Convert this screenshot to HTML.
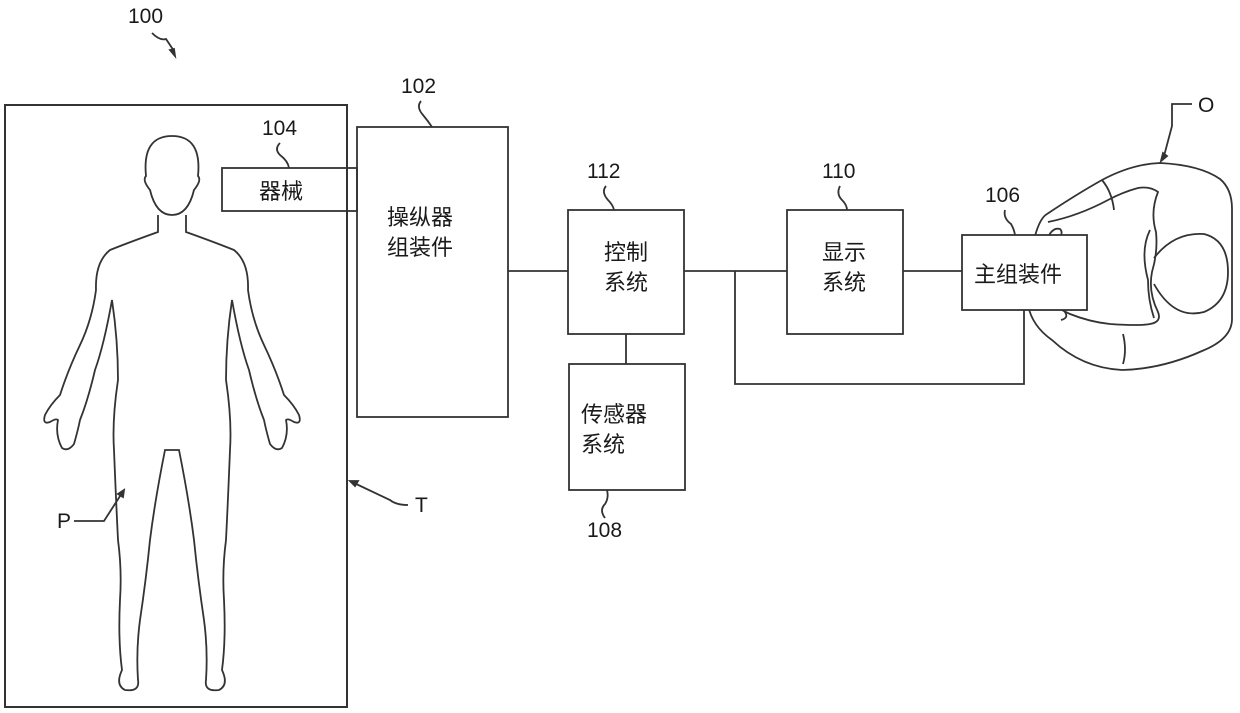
<!DOCTYPE html>
<html><head><meta charset="utf-8"><style>
body{margin:0;background:#fff;width:1240px;height:713px;overflow:hidden}
svg{display:block}
text{font-family:"Liberation Sans","Noto Sans CJK SC",sans-serif;fill:#1a1a1a}
.c{font-size:22px}
.n{font-size:21px}
</style></head><body>
<svg width="1240" height="713" viewBox="0 0 1240 713" fill="none" stroke="#333" stroke-width="1.8">
<defs><path id="half" d="M158 215 L158 232 Q130 242 110 250 Q95 262 96 290 Q92 320 80 345 Q68 370 60 395 Q50 405 45 415 Q42 425 50 422 Q56 418 58 420 Q55 435 62 448 Q68 452 74 444 Q78 430 80 420 Q88 400 95 370 Q104 345 112 300 Q118 340 118 380 Q112 420 114 450 Q116 500 118 540 Q122 570 120 600 Q118 640 122 670 Q115 685 125 690 Q140 692 138 680 Q136 650 140 620 Q146 580 150 540 Q155 500 165 450 L172 450"/></defs>
<!-- 100 -->
<text x="128" y="23" class="n" stroke="none">100</text>
<path d="M152 33 q8 8 14 6 q4 6 8 12" />
<path d="M170 50 l5 6 l-1 -7 z" fill="#333"/>
<!-- table -->
<rect x="5" y="105" width="342" height="602" stroke-width="2"/>
<!-- person -->
<path d="M150 190 q-8-10-4-14 q-4-40 26-40 q30 0 26 40 q4 4-4 14 q-6 25-22 25 q-16 0-22-25z"/>
<use href="#half"/>
<use href="#half" transform="translate(344,0) scale(-1,1)"/>
<!-- P label -->
<text x="57" y="528" class="n" stroke="none">P</text>
<path d="M74 521 h30 l18 -28"/><path d="M124 490 l-6 4 l5 3 z" fill="#333"/>
<!-- T label -->
<text x="415" y="512" class="n" stroke="none">T</text>
<path d="M408 505 q-12 0-18-5 l-38-18"/><path d="M350 481 l8 0 l-3 5 z" fill="#333"/>
<!-- 104 -->
<rect x="222" y="168" width="135" height="43"/>
<text x="259" y="199" class="c" stroke="none">器械</text>
<text x="262" y="135" class="n" stroke="none">104</text>
<path d="M280 143 q-6 6 0 12 q8 6 9 13"/>
<!-- 102 -->
<rect x="357" y="127" width="151" height="290"/>
<text x="387" y="225" class="c" stroke="none">操纵器</text>
<text x="387" y="255" class="c" stroke="none">组装件</text>
<text x="401" y="93" class="n" stroke="none">102</text>
<path d="M421 101 q-5 6 2 14 q5 6 9 12"/>
<!-- lines -->
<path d="M508 271 H568 M684 271 H787 M903 271 H962 M626 334 V364 M735 271 V384 H1024 V310"/>
<!-- 112 -->
<rect x="568" y="210" width="116" height="124"/>
<text x="604" y="260" class="c" stroke="none">控制</text>
<text x="604" y="290" class="c" stroke="none">系统</text>
<text x="587" y="178" class="n" stroke="none">112</text>
<path d="M606 186 q-5 6 2 14 q5 5 6 10"/>
<!-- 108 -->
<rect x="569" y="364" width="116" height="126"/>
<text x="581" y="422" class="c" stroke="none">传感器</text>
<text x="581" y="452" class="c" stroke="none">系统</text>
<text x="587" y="537" class="n" stroke="none">108</text>
<path d="M605 518 q-6-8 0-14 q4-6 2-14"/>
<!-- 110 -->
<rect x="787" y="210" width="116" height="124"/>
<text x="822" y="260" class="c" stroke="none">显示</text>
<text x="822" y="290" class="c" stroke="none">系统</text>
<text x="822" y="178" class="n" stroke="none">110</text>
<path d="M840 186 q-4 8 2 14 q5 5 5 10"/>
<!-- operator -->
<path d="M1035 236 q5-18 12-22 q30-20 55-34 q30-16 58-17 q40 2 60 16 q12 10 12 30 v110 q0 20-30 32 q-40 18-80 19 q-40-2-70-30 q-20-14-24-35"/>
<path d="M1102 180 q10 12 12 30"/>
<path d="M1048 222 q30-6 60-22 q15-8 30-12 q12-2 20 4 q-8 20-2 40 q2 20-4 40 q-4 20 6 40 q4 10-8 12 q-10 2-40 0 q-20-2-40-10 l-20-10"/>
<path d="M1123 334 q4 16 0 30"/>
<path d="M1150 230 q-10 20-2 50 q0 20 6 38"/>
<path d="M1154 258 q20-26 50-24 q24 6 24 38 q0 30-24 40 q-30 8-50-28"/>
<path d="M1048 237 q5-10 12-8 q4 4-2 10 q-4 6-6 10 M1055 310 q6-4 10 2 q4 6-4 8"/>
<!-- 106 -->
<rect x="962" y="235" width="125" height="75" fill="#fff"/>
<text x="974" y="282" class="c" stroke="none">主组装件</text>
<text x="985" y="202" class="n" stroke="none">106</text>
<path d="M1005 210 q-2 8 6 14 q3 5 4 11"/>
<!-- O -->
<text x="1198" y="112" class="n" stroke="none">O</text>
<path d="M1192 104 h-20 v22 l-8 30"/><path d="M1161 161 l2-8 l4 3 z" fill="#333"/>
</svg>
</body></html>
